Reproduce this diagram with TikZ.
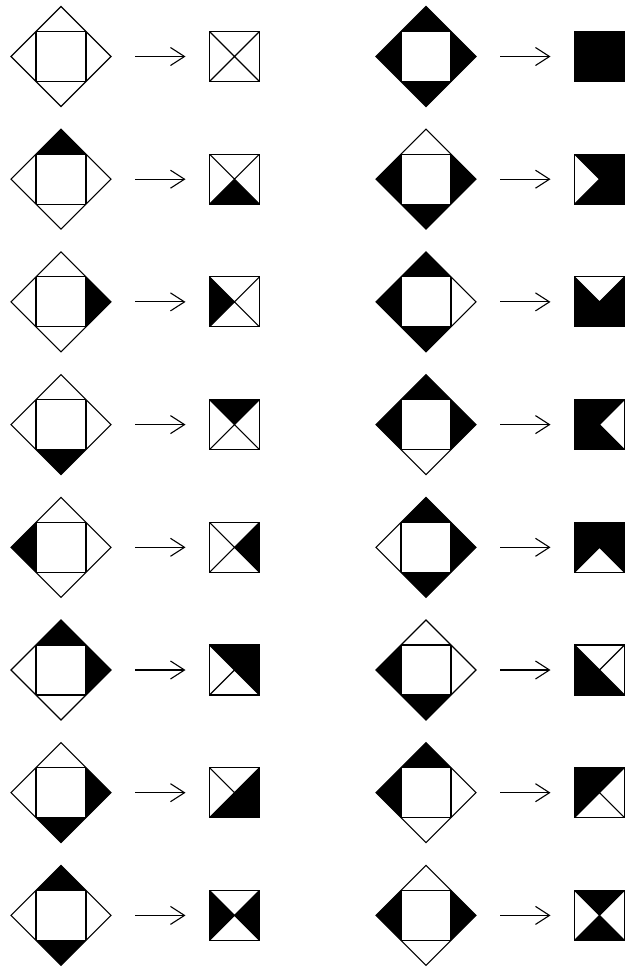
\documentclass[tikz,border=0pt]{standalone}
\usepackage{tikz}
\usetikzlibrary{shapes.geometric, arrows.meta, positioning}

\begin{document}
\begin{tikzpicture}[
  x=1pt, y=-1pt, line width=1.1pt,
  kite/.style={diamond, draw, minimum size=100pt, inner sep=0pt, outer sep=0pt,
               path picture={\draw ([shift={(-25pt,-25pt)}]path picture bounding box.center)
                               rectangle ([shift={(25pt,25pt)}]path picture bounding box.center);}},
  cell/.style={rectangle, draw, minimum size=50pt, inner sep=0pt, outer sep=0pt,
               path picture={\draw (path picture bounding box.north west) -- (path picture bounding box.south east)
                                   (path picture bounding box.north east) -- (path picture bounding box.south west);}},
  arrow/.style={-{Straight Barb[length=14pt, width=18pt, line width=1.1pt]}, shorten <=24pt, shorten >=24pt},
  node distance=22.7pt
]
  \useasboundingbox (0,0) rectangle (633,967);

  % left column
  \node[kite] (d1) at (61,56.5) {};
  \node[kite, below=of d1] (d2) {};
  \node[kite, below=of d2] (d3) {};
  \node[kite, below=of d3] (d4) {};
  \node[kite, below=of d4] (d5) {};
  \node[kite, below=of d5] (d6) {};
  \node[kite, below=of d6] (d7) {};
  \node[kite, below=of d7] (d8) {};

  % right column
  \node[kite, right=265pt of d1] (d9) {};
  \node[kite, below=of d9] (d10) {};
  \node[kite, below=of d10] (d11) {};
  \node[kite, below=of d11] (d12) {};
  \node[kite, below=of d12] (d13) {};
  \node[kite, below=of d13] (d14) {};
  \node[kite, below=of d14] (d15) {};
  \node[kite, below=of d15] (d16) {};

  % folded squares
  \node[cell, right=98.5pt of d1] (q1) {};
  \node[cell, right=98.5pt of d2] (q2) {};
  \node[cell, right=98.5pt of d3] (q3) {};
  \node[cell, right=98.5pt of d4] (q4) {};
  \node[cell, right=98.5pt of d5] (q5) {};
  \node[cell, right=98.5pt of d6] (q6) {};
  \node[cell, right=98.5pt of d7] (q7) {};
  \node[cell, right=98.5pt of d8] (q8) {};
  \node[cell, right=98.5pt of d9] (q9) {};
  \node[cell, right=98.5pt of d10] (q10) {};
  \node[cell, right=98.5pt of d11] (q11) {};
  \node[cell, right=98.5pt of d12] (q12) {};
  \node[cell, right=98.5pt of d13] (q13) {};
  \node[cell, right=98.5pt of d14] (q14) {};
  \node[cell, right=98.5pt of d15] (q15) {};
  \node[cell, right=98.5pt of d16] (q16) {};

  \draw[arrow] (d1) -- (q1);
  \draw[arrow] (d2) -- (q2);
  \draw[arrow] (d3) -- (q3);
  \draw[arrow] (d4) -- (q4);
  \draw[arrow] (d5) -- (q5);
  \draw[arrow] (d6) -- (q6);
  \draw[arrow] (d7) -- (q7);
  \draw[arrow] (d8) -- (q8);
  \draw[arrow] (d9) -- (q9);
  \draw[arrow] (d10) -- (q10);
  \draw[arrow] (d11) -- (q11);
  \draw[arrow] (d12) -- (q12);
  \draw[arrow] (d13) -- (q13);
  \draw[arrow] (d14) -- (q14);
  \draw[arrow] (d15) -- (q15);
  \draw[arrow] (d16) -- (q16);

  % black flaps, left column
  \fill (d2.north) -- (d2.north west) -- (d2.north east) -- cycle;
  \fill (d3.east) -- (d3.north east) -- (d3.south east) -- cycle;
  \fill (d4.south) -- (d4.south east) -- (d4.south west) -- cycle;
  \fill (d5.west) -- (d5.south west) -- (d5.north west) -- cycle;
  \fill (d6.north) -- (d6.north west) -- (d6.north east) -- cycle
        (d6.east) -- (d6.north east) -- (d6.south east) -- cycle;
  \fill (d7.east) -- (d7.north east) -- (d7.south east) -- cycle
        (d7.south) -- (d7.south east) -- (d7.south west) -- cycle;
  \fill (d8.north) -- (d8.north west) -- (d8.north east) -- cycle
        (d8.south) -- (d8.south east) -- (d8.south west) -- cycle;

  \fill (q2.south east) -- (q2.south west) -- (q2.center) -- cycle;
  \fill (q3.south west) -- (q3.north west) -- (q3.center) -- cycle;
  \fill (q4.north west) -- (q4.north east) -- (q4.center) -- cycle;
  \fill (q5.north east) -- (q5.south east) -- (q5.center) -- cycle;
  \fill (q6.north west) -- (q6.north east) -- (q6.south east) -- cycle;
  \fill (q7.north east) -- (q7.south east) -- (q7.south west) -- cycle;
  \fill (q8.north west) -- (q8.south west) -- (q8.north east) -- (q8.south east) -- cycle;

  % black flaps, right column
  \fill[even odd rule] (d9.north) -- (d9.east) -- (d9.south) -- (d9.west) -- cycle
        (d9.north west) rectangle (d9.south east);
  \fill (d10.east) -- (d10.north east) -- (d10.south east) -- cycle
        (d10.south) -- (d10.south east) -- (d10.south west) -- cycle
        (d10.west) -- (d10.south west) -- (d10.north west) -- cycle;
  \fill (d11.north) -- (d11.north west) -- (d11.north east) -- cycle
        (d11.south) -- (d11.south east) -- (d11.south west) -- cycle
        (d11.west) -- (d11.south west) -- (d11.north west) -- cycle;
  \fill (d12.north) -- (d12.north west) -- (d12.north east) -- cycle
        (d12.east) -- (d12.north east) -- (d12.south east) -- cycle
        (d12.west) -- (d12.south west) -- (d12.north west) -- cycle;
  \fill (d13.north) -- (d13.north west) -- (d13.north east) -- cycle
        (d13.east) -- (d13.north east) -- (d13.south east) -- cycle
        (d13.south) -- (d13.south east) -- (d13.south west) -- cycle;
  \fill (d14.south) -- (d14.south east) -- (d14.south west) -- cycle
        (d14.west) -- (d14.south west) -- (d14.north west) -- cycle;
  \fill (d15.north) -- (d15.north west) -- (d15.north east) -- cycle
        (d15.west) -- (d15.south west) -- (d15.north west) -- cycle;
  \fill (d16.east) -- (d16.north east) -- (d16.south east) -- cycle
        (d16.west) -- (d16.south west) -- (d16.north west) -- cycle;

  \fill (q9.north west) rectangle (q9.south east);
  \fill (q10.north west) -- (q10.north east) -- (q10.south east) -- (q10.south west) -- (q10.center) -- cycle;
  \fill (q11.north east) -- (q11.south east) -- (q11.south west) -- (q11.north west) -- (q11.center) -- cycle;
  \fill (q12.south east) -- (q12.south west) -- (q12.north west) -- (q12.north east) -- (q12.center) -- cycle;
  \fill (q13.south west) -- (q13.north west) -- (q13.north east) -- (q13.south east) -- (q13.center) -- cycle;
  \fill (q14.south east) -- (q14.south west) -- (q14.north west) -- cycle;
  \fill (q15.south west) -- (q15.north west) -- (q15.north east) -- cycle;
  \fill (q16.north west) -- (q16.north east) -- (q16.south west) -- (q16.south east) -- cycle;
\end{tikzpicture}
\end{document}
